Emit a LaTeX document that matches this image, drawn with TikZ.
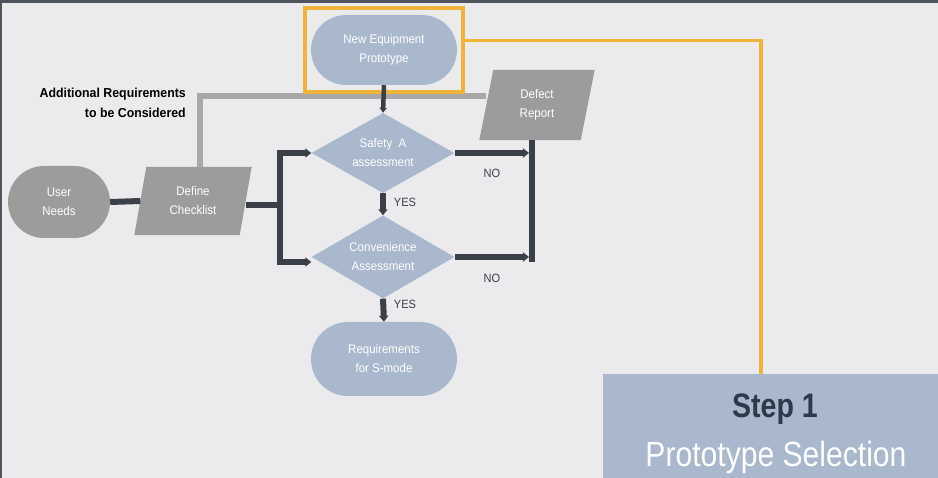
\documentclass[tikz,border=0pt]{standalone}
\usepackage{fontspec}
\setmainfont{Liberation Sans}
\newfontfamily\nf[FakeStretch=0.92]{Liberation Sans}
\newfontfamily\lf[FakeStretch=0.95]{Liberation Sans}
\newfontfamily\stepfont[FakeStretch=0.84]{Liberation Sans}
\newfontfamily\selfont[FakeStretch=0.86]{Liberation Sans}
\usetikzlibrary{shapes.geometric,shapes.misc,arrows.meta,calc,backgrounds,fit}
\definecolor{bgc}{HTML}{EBEBED}
\definecolor{frameDark}{HTML}{4F545C}
\definecolor{bluefill}{HTML}{A9B8CD}
\definecolor{grayfill}{HTML}{9C9C9C}
\definecolor{darkc}{HTML}{3B3F47}
\definecolor{orangec}{HTML}{F0B43A}
\definecolor{lgray}{HTML}{A8A8A8}
\definecolor{stepdark}{HTML}{2E3A4A}
\begin{document}
\begin{tikzpicture}[x=1pt,y=-1pt,
  txt/.style={font=\nf\fontsize{12.5}{19}\selectfont, text=white, align=center, inner sep=0pt},
  stadium/.style={txt, rounded rectangle, fill=bluefill},
  graystadium/.style={txt, rounded rectangle, fill=grayfill},
  decision/.style={txt, diamond, fill=bluefill, aspect=1.79},
  iobox/.style={txt, rectangle},
  darkline/.style={draw=darkc, line width=6pt},
  darkarrow/.style={draw=darkc, line width=6pt, -{Triangle[length=6pt,width=9pt]}},
  thinarrow/.style={draw=darkc, line width=4.5pt, -{Triangle[length=5pt,width=7pt]}},
  grayline/.style={draw=lgray, line width=6pt},
  orangeline/.style={draw=orangec, line width=3.5pt},
  lbl/.style={font=\nf\fontsize{12}{14}\selectfont, text=darkc, inner sep=0pt}
]
\useasboundingbox (0,0) rectangle (938,478);
\begin{scope}[on background layer]
  \fill[bgc] (0,0) rectangle (938,478);
  \fill[frameDark] (0,0) rectangle (938,3);
  \fill[frameDark] (0,0) rectangle (2,478);
\end{scope}

% nodes
\node[stadium, minimum width=146, minimum height=70] (ne) at (384,50) {New Equipment\\Prototype};
\node[fit=(ne), inner xsep=6pt, inner ysep=7pt, draw=orangec, line width=3.5pt] (frame) {};
\node[decision, minimum width=143, minimum height=80] (sa) at (383,153) {Safety~~A\\assessment};
\node[decision, minimum width=143, minimum height=83] (ca) at (383,257) {Convenience\\Assessment};
\node[stadium, minimum width=146, minimum height=74] (req) at (384,359) {Requirements\\for S-mode};
\node[graystadium, minimum width=102, minimum height=72] (un) at (59,202) {User\\Needs};
\node[iobox, minimum width=105, minimum height=68] (dc) at (193,201) {Define\\Checklist};
\node[iobox, minimum width=101, minimum height=70] (dr) at (537,105) {Defect\\Report};
\node[rectangle, fill=bluefill, minimum width=335, minimum height=110, inner sep=0pt] (step) at (770.5,429) {};
\node[font=\stepfont\bfseries\fontsize{34}{34}\selectfont, text=stepdark, anchor=base, inner sep=0pt] (stepA) at (775,418) {Step 1};
\node[font=\selfont\fontsize{35}{35}\selectfont, text=white, anchor=base, inner sep=0pt] (stepB) at (776,467) {Prototype Selection};
\node[font=\lf\bfseries\fontsize{13}{20}\selectfont, align=right, anchor=east, inner sep=0pt] (addreq) at (186,103) {Additional Requirements\\to be Considered};

% parallelogram fills
\begin{scope}[on background layer]
  \fill[grayfill] ($(dc.north west)+(6,0)$) -- ($(dc.north east)+(6,0)$) -- ($(dc.south east)+(-6,0)$) -- ($(dc.south west)+(-6,0)$) -- cycle;
  \fill[grayfill] ($(dr.north west)+(7,0)$) -- ($(dr.north east)+(7,0)$) -- ($(dr.south east)+(-7,0)$) -- ($(dr.south west)+(-7,0)$) -- cycle;
\end{scope}

% coordinates
\coordinate (busMid) at (280,205);
\coordinate (busTop) at (280,153);
\coordinate (busBot) at (280,262);
\coordinate (noA) at (529,153);
\coordinate (noB) at (529,257);
\coordinate (rbus) at (532,262);
\coordinate (grayCorner) at (200,96);

% gray line
\begin{scope}[on background layer]
\draw[grayline] (dc.north -| grayCorner) -- (grayCorner) -- (dr.west |- grayCorner);
\end{scope}

% orange connector
\draw[orangeline] ([yshift=9.5pt]frame.east) -| ([xshift=-9.5pt]step.north);

% dark connectors
\draw[thinarrow] (ne.south) -- (sa.north);
\draw[darkarrow] (sa.south) -- (ca.north);
\draw[darkarrow] (ca.south) -- (req.north);
\draw[darkline] (un.east) -- (dc.west);
\draw[darkline] (dc.east |- busMid) -- (busMid);
\draw[darkline] ([yshift=3pt]busTop) -- ([yshift=-3pt]busBot);
\draw[darkarrow] ([xshift=-3pt]busTop) -- (sa.west);
\draw[darkarrow] ([xshift=-3pt]busBot) -- (ca.west |- busBot);
\draw[darkarrow] (sa.east) -- (noA);
\draw[darkarrow] (ca.east) -- (noB);
\draw[darkline] (rbus) -- (rbus |- dr.south);

% labels
\node[lbl] (yes1) at (405,202) {YES};
\node[lbl] (yes2) at (405,304) {YES};
\node[lbl] (no1) at (492,173) {NO};
\node[lbl] (no2) at (492,278) {NO};
\end{tikzpicture}
\end{document}
